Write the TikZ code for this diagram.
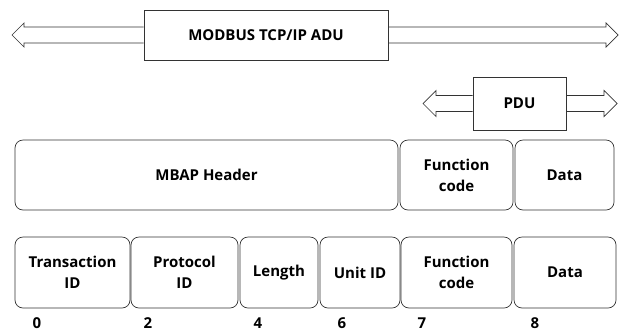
\documentclass[tikz,border=0pt]{standalone}
\usepackage{fontspec}
\setmainfont{Open Sans}
\usetikzlibrary{calc}
\tikzset{
  field/.style={draw=black!80, line width=0.7pt, rounded corners=8pt, inner sep=0pt,
    align=center, font=\bfseries\fontsize{15}{21}\selectfont},
  label/.style={draw=black!80, line width=0.7pt, inner sep=0pt, font=\bfseries\fontsize{15}{21}\selectfont},
  outline/.style={draw=black!80, line width=0.7pt, line join=miter},
  offset/.style={anchor=base, inner sep=0pt, font=\bfseries\fontsize{15}{21}\selectfont}
}

\begin{document}
\begin{tikzpicture}[x=1pt,y=-1pt]
\useasboundingbox (0,0) rectangle (620,333);

% ADU and PDU spans
\node[label, minimum width=244pt, minimum height=50pt] (adu) at (266,35) {MODBUS TCP/IP ADU};
\coordinate (aduL) at (12,35);
\coordinate (aduR) at (618,35);
\draw[outline] ($(adu.west)+(0,-8)$) -- ($(aduL)+(12,-8)$) -- ($(aduL)+(12,-12)$) -- (aduL)
  -- ($(aduL)+(12,12)$) -- ($(aduL)+(12,8)$) -- ($(adu.west)+(0,8)$);
\draw[outline] ($(adu.east)+(0,-8)$) -- ($(aduR)+(-12,-8)$) -- ($(aduR)+(-12,-12)$) -- (aduR)
  -- ($(aduR)+(-12,12)$) -- ($(aduR)+(-12,8)$) -- ($(adu.east)+(0,8)$);

\node[label, minimum width=93pt, minimum height=53pt] (pdu) at (519.5,103.5) {PDU};
\coordinate (pduL) at (423,103.5);
\coordinate (pduR) at (617,103.5);
\draw[outline] ($(pdu.west)+(0,-8)$) -- ($(pduL)+(13,-8)$) -- ($(pduL)+(13,-13)$) -- (pduL)
  -- ($(pduL)+(13,13)$) -- ($(pduL)+(13,8)$) -- ($(pdu.west)+(0,8)$);
\draw[outline] ($(pdu.east)+(0,-8)$) -- ($(pduR)+(-13,-8)$) -- ($(pduR)+(-13,-13)$) -- (pduR)
  -- ($(pduR)+(-13,13)$) -- ($(pduR)+(-13,8)$) -- ($(pdu.east)+(0,8)$);

% frame
\node[field, minimum width=383pt, minimum height=70pt] (mbap) at (206.5,175) {MBAP Header};
\node[field, minimum width=113pt, minimum height=70pt] (func) at (456.5,175) {Function\\code};
\node[field, minimum width=99pt, minimum height=70pt] (data) at (564.5,175) {Data};

% fields
\node[field, minimum width=115pt, minimum height=71pt] (tid) at (72.5,272.5) {Transaction\\ID};
\node[field, minimum width=107pt, minimum height=71pt] (pid) at (184.5,272.5) {Protocol\\ID};
\node[field, minimum width=78pt, minimum height=71pt] (len) at (279,272.5) {Length};
\node[field, minimum width=80pt, minimum height=71pt] (uid) at (360,272.5) {Unit ID};
\node[field, minimum width=111pt, minimum height=71pt] (fcode) at (456.5,272.5) {Function\\code};
\node[field, minimum width=102pt, minimum height=71pt] (fdata) at (565,272.5) {Data};

% byte offsets
\node[offset] (o0) at (37,328) {0};
\node[offset] (o2) at (148,328) {2};
\node[offset] (o4) at (258,328) {4};
\node[offset] (o6) at (342,328) {6};
\node[offset] (o7) at (422,328) {7};
\node[offset] (o8) at (535,328) {8};
\end{tikzpicture}
\end{document}
